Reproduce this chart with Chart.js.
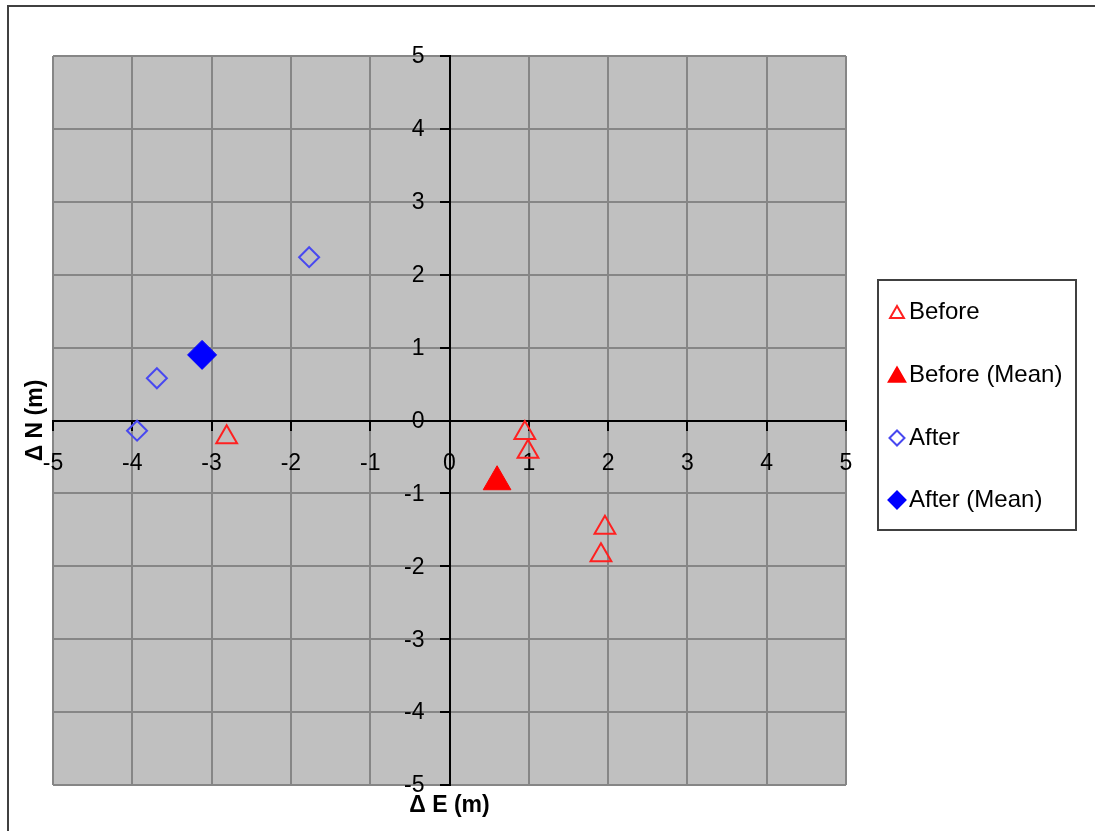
<!DOCTYPE html>
<html>
<head>
<meta charset="utf-8">
<script src="https://cdn.jsdelivr.net/npm/chart.js@4.4.1/dist/chart.umd.min.js"></script>
<style>
  html, body { margin: 0; padding: 0; background: #ffffff; }
  #wrap { position: relative; width: 1095px; height: 831px; }
  canvas { display: block; }
</style>
</head>
<body>
<div id="wrap"><canvas id="c" width="1095" height="831"></canvas></div>
<script>
// ---- Data ----
const beforeE = [-2.81, 0.95, 0.99, 1.96, 1.91];
const beforeN = [-0.23, -0.17, -0.43, -1.47, -1.85];
const beforeMeanE = [0.60];
const beforeMeanN = [-0.84];
const afterE = [-1.77, -3.69, -3.94];
const afterN = [2.24, 0.58, -0.14];
const afterMeanE = [-3.12];
const afterMeanN = [0.90];
const seriesLabels = ['Before', 'Before (Mean)', 'After', 'After (Mean)'];
const xTitle = 'Δ E (m)';
const yTitle = 'Δ N (m)';
const axisMin = -5, axisMax = 5, axisStep = 1;

const pts = (xs, ys) => xs.map((x, i) => ({x: x, y: ys[i]}));

const FONT = "'Liberation Sans', Arial, sans-serif";

// frame + background
const framePlugin = {
  id: 'frame',
  beforeDraw(chart) {
    const ctx = chart.ctx;
    ctx.save();
    ctx.fillStyle = '#ffffff';
    ctx.fillRect(0, 0, chart.width, chart.height);
    ctx.strokeStyle = '#404040';
    ctx.lineWidth = 2;
    ctx.strokeRect(8, 6, chart.width + 20, chart.height + 20);
    const a = chart.chartArea;
    ctx.fillStyle = '#c0c0c0';
    ctx.fillRect(a.left, a.top, a.right - a.left, a.bottom - a.top);
    ctx.restore();
  }
};

// y tick labels to the left of the centred y axis (Chart.js puts them flush on the axis)
const yLabelsPlugin = {
  id: 'yLabels',
  afterDraw(chart) {
    const ctx = chart.ctx;
    const xs = chart.scales.x, ys = chart.scales.y;
    const axisX = xs.getPixelForValue(0);
    ctx.save();
    ctx.fillStyle = '#000000';
    ctx.font = "23px " + FONT;
    ctx.textAlign = 'right';
    ctx.textBaseline = 'middle';
    ys.ticks.forEach(t => {
      ctx.fillText(String(t.value), axisX - 25, ys.getPixelForValue(t.value) + 1);
    });
    ctx.restore();
  }
};

// axis titles
const titlesPlugin = {
  id: 'axisTitles',
  afterDraw(chart) {
    const ctx = chart.ctx;
    const xs = chart.scales.x, ys = chart.scales.y;
    ctx.save();
    ctx.fillStyle = '#000000';
    ctx.font = "bold 23px " + FONT;
    ctx.textAlign = 'center';
    ctx.textBaseline = 'middle';
    ctx.fillText(xTitle, xs.getPixelForValue(0), chart.chartArea.bottom + 21);
    ctx.translate(chart.chartArea.left - 17, ys.getPixelForValue(0));
    ctx.rotate(-Math.PI / 2);
    ctx.fillText(yTitle, 0, 0);
    ctx.restore();
  }
};

// boxed legend at right
const legendPlugin = {
  id: 'boxLegend',
  afterDraw(chart) {
    const ctx = chart.ctx;
    const box = {left: 878, top: 280, right: 1076, bottom: 530};
    const rowY = [312, 375, 438, 500];
    const markerX = 897, textX = 909;
    const sizes = [8, 9.5, 7.5, 8.5];
    ctx.save();
    ctx.fillStyle = '#ffffff';
    ctx.fillRect(box.left, box.top, box.right - box.left, box.bottom - box.top);
    ctx.strokeStyle = '#404040';
    ctx.lineWidth = 2;
    ctx.strokeRect(box.left, box.top, box.right - box.left, box.bottom - box.top);
    chart.data.datasets.forEach((ds, i) => {
      ctx.save();
      ctx.strokeStyle = ds.borderColor;
      ctx.fillStyle = ds.backgroundColor;
      ctx.lineWidth = 2;
      Chart.helpers.drawPoint(ctx, {pointStyle: ds.pointStyle, radius: sizes[i], rotation: 0, borderWidth: 2}, markerX, rowY[i] + (ds.pointStyle === 'triangle' ? 2 : 0));
      ctx.restore();
      ctx.fillStyle = '#000000';
      ctx.font = "24px " + FONT;
      ctx.textAlign = 'left';
      ctx.textBaseline = 'middle';
      ctx.fillText(ds.label, textX, rowY[i]);
    });
    ctx.restore();
  }
};

const tickFont = {family: FONT, size: 23};

new Chart(document.getElementById('c'), {
  type: 'scatter',
  data: {
    datasets: [
      {label: seriesLabels[0], data: pts(beforeE, beforeN), pointStyle: 'triangle', pointRadius: 12, pointHoverRadius: 12,
       borderColor: '#ff2020', backgroundColor: 'rgba(0,0,0,0)', borderWidth: 2},
      {label: seriesLabels[1], data: pts(beforeMeanE, beforeMeanN), pointStyle: 'triangle', pointRadius: 16, pointHoverRadius: 16,
       borderColor: '#ff0000', backgroundColor: '#ff0000', borderWidth: 1},
      {label: seriesLabels[2], data: pts(afterE, afterN), pointStyle: 'rectRot', pointRadius: 10, pointHoverRadius: 10,
       borderColor: '#4848f0', backgroundColor: 'rgba(0,0,0,0)', borderWidth: 2},
      {label: seriesLabels[3], data: pts(afterMeanE, afterMeanN), pointStyle: 'rectRot', pointRadius: 14.5, pointHoverRadius: 14.5,
       borderColor: '#0000ff', backgroundColor: '#0000ff', borderWidth: 1}
    ]
  },
  options: {
    responsive: false,
    animation: false,
    events: [],
    layout: {padding: {left: 53, top: 56, right: 249, bottom: 46}},
    plugins: {legend: {display: false}, tooltip: {enabled: false}},
    scales: {
      x: {
        type: 'linear', min: axisMin, max: axisMax,
        position: {y: 0},
        grid: {color: '#868686', lineWidth: 2, tickColor: '#000000', tickLength: 9, tickWidth: 2},
        border: {color: '#000000', width: 2},
        ticks: {stepSize: axisStep, font: tickFont, color: '#000000', padding: 20, maxRotation: 0, autoSkip: false}
      },
      y: {
        type: 'linear', min: axisMin, max: axisMax,
        position: {x: 0},
        grid: {color: '#868686', lineWidth: 2, tickColor: '#000000', tickLength: 9, tickWidth: 2},
        border: {color: '#000000', width: 2},
        ticks: {stepSize: axisStep, font: tickFont, color: 'rgba(0,0,0,0)', padding: 16, autoSkip: false}
      }
    }
  },
  plugins: [framePlugin, yLabelsPlugin, titlesPlugin, legendPlugin]
});
</script>
</body>
</html>
